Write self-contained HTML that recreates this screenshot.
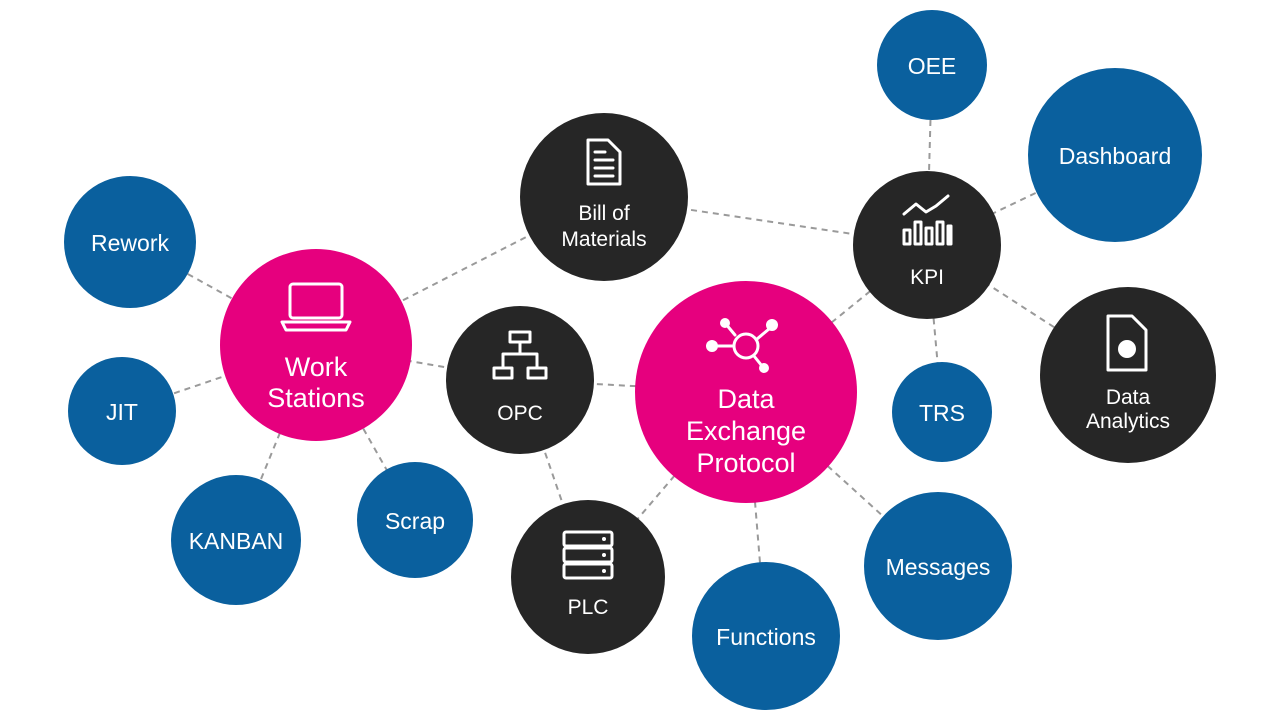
<!DOCTYPE html>
<html><head><meta charset="utf-8"><style>
html,body{margin:0;padding:0;background:#fff;width:1280px;height:720px;overflow:hidden}
svg{display:block}
text{font-family:"Liberation Sans",sans-serif;fill:#fff;text-anchor:middle}
</style></head><body>
<svg width="1280" height="720" viewBox="0 0 1280 720">
<g stroke="#9a9a9a" stroke-width="2" stroke-dasharray="6 5" fill="none">
<line x1="932" y1="65" x2="927" y2="245"/>
<line x1="1115" y1="155" x2="927" y2="245"/>
<line x1="604" y1="197" x2="927" y2="245"/>
<line x1="746" y1="392" x2="927" y2="245"/>
<line x1="942" y1="412" x2="927" y2="245"/>
<line x1="1128" y1="375" x2="927" y2="245"/>
<line x1="604" y1="197" x2="316" y2="345"/>
<line x1="130" y1="242" x2="316" y2="345"/>
<line x1="122" y1="411" x2="316" y2="345"/>
<line x1="236" y1="540" x2="316" y2="345"/>
<line x1="415" y1="520" x2="316" y2="345"/>
<line x1="520" y1="380" x2="316" y2="345"/>
<line x1="520" y1="380" x2="746" y2="392"/>
<line x1="520" y1="380" x2="588" y2="577"/>
<line x1="746" y1="392" x2="588" y2="577"/>
<line x1="746" y1="392" x2="766" y2="636"/>
<line x1="746" y1="392" x2="938" y2="566"/>
</g>
<g fill="#0a609e">
<circle cx="932" cy="65" r="55"/>
<circle cx="1115" cy="155" r="87"/>
<circle cx="130" cy="242" r="66"/>
<circle cx="122" cy="411" r="54"/>
<circle cx="942" cy="412" r="50"/>
<circle cx="236" cy="540" r="65"/>
<circle cx="415" cy="520" r="58"/>
<circle cx="766" cy="636" r="74"/>
<circle cx="938" cy="566" r="74"/>
</g>
<g fill="#262626">
<circle cx="927" cy="245" r="74"/>
<circle cx="604" cy="197" r="84"/>
<circle cx="520" cy="380" r="74"/>
<circle cx="1128" cy="375" r="88"/>
<circle cx="588" cy="577" r="77"/>
</g>
<g fill="#e6007e">
<circle cx="316" cy="345" r="96"/>
<circle cx="746" cy="392" r="111"/>
</g>
<g font-size="23">
<text x="932" y="74">OEE</text>
<text x="1115" y="164">Dashboard</text>
<text x="130" y="251">Rework</text>
<text x="122" y="420">JIT</text>
<text x="942" y="421">TRS</text>
<text x="236" y="549">KANBAN</text>
<text x="415" y="529">Scrap</text>
<text x="766" y="645">Functions</text>
<text x="938" y="575">Messages</text>
</g>
<g font-size="21">
<text x="604" y="220">Bill of</text>
<text x="604" y="246">Materials</text>
<text x="927" y="284">KPI</text>
<text x="520" y="420">OPC</text>
<text x="1128" y="404">Data</text>
<text x="1128" y="428">Analytics</text>
<text x="588" y="614">PLC</text>
</g>
<g font-size="27">
<text x="316" y="376">Work</text>
<text x="316" y="407">Stations</text>
<text x="746" y="408">Data</text>
<text x="746" y="440">Exchange</text>
<text x="746" y="472">Protocol</text>
</g>
<g stroke="#fff" stroke-width="3" fill="none" stroke-linejoin="round" stroke-linecap="round">
<!-- laptop -->
<rect x="290" y="284" width="52" height="34" rx="3"/>
<path d="M282 322 h68 l-4 8 h-60 z"/>
<!-- document -->
<path d="M588 140 h20 l12 12 v32 h-32 z"/><path d="M595 152 h10 M595 160 h18 M595 168 h18 M595 176 h18"/>
<!-- network OPC -->
<rect x="510" y="332" width="20" height="10"/><rect x="494" y="368" width="18" height="10"/><rect x="528" y="368" width="18" height="10"/>
<path d="M520 342 v12 M503 354 h34 M503 354 v14 M537 354 v14"/>
<!-- hub -->
<circle cx="746" cy="346" r="12"/><path d="M735 335 l-10-12 M757 339 l12-10 M734 346 h-16 M754 356 l8 10"/>
<!-- chart -->
<path d="M904 214 l12-10 l10 8 l10-6 l12-10"/>
<rect x="904" y="230" width="6" height="14"/><rect x="915" y="222" width="6" height="22"/><rect x="926" y="228" width="6" height="16"/><rect x="937" y="222" width="6" height="22"/><rect x="948" y="226" width="3" height="18"/>
<!-- analytics doc -->
<path d="M1108 316 h24 l14 14 v40 h-38 z"/>
<!-- server -->
<rect x="564" y="532" width="48" height="14" rx="2"/><rect x="564" y="548" width="48" height="14" rx="2"/><rect x="564" y="564" width="48" height="14" rx="2"/>
</g>
<g fill="#fff">
<circle cx="725" cy="323" r="5"/><circle cx="772" cy="325" r="6"/><circle cx="712" cy="346" r="6"/><circle cx="764" cy="368" r="5"/>
<circle cx="1127" cy="349" r="9"/>
<circle cx="604" cy="539" r="2"/><circle cx="604" cy="555" r="2"/><circle cx="604" cy="571" r="2"/>
</g>
</svg>
</body></html>
